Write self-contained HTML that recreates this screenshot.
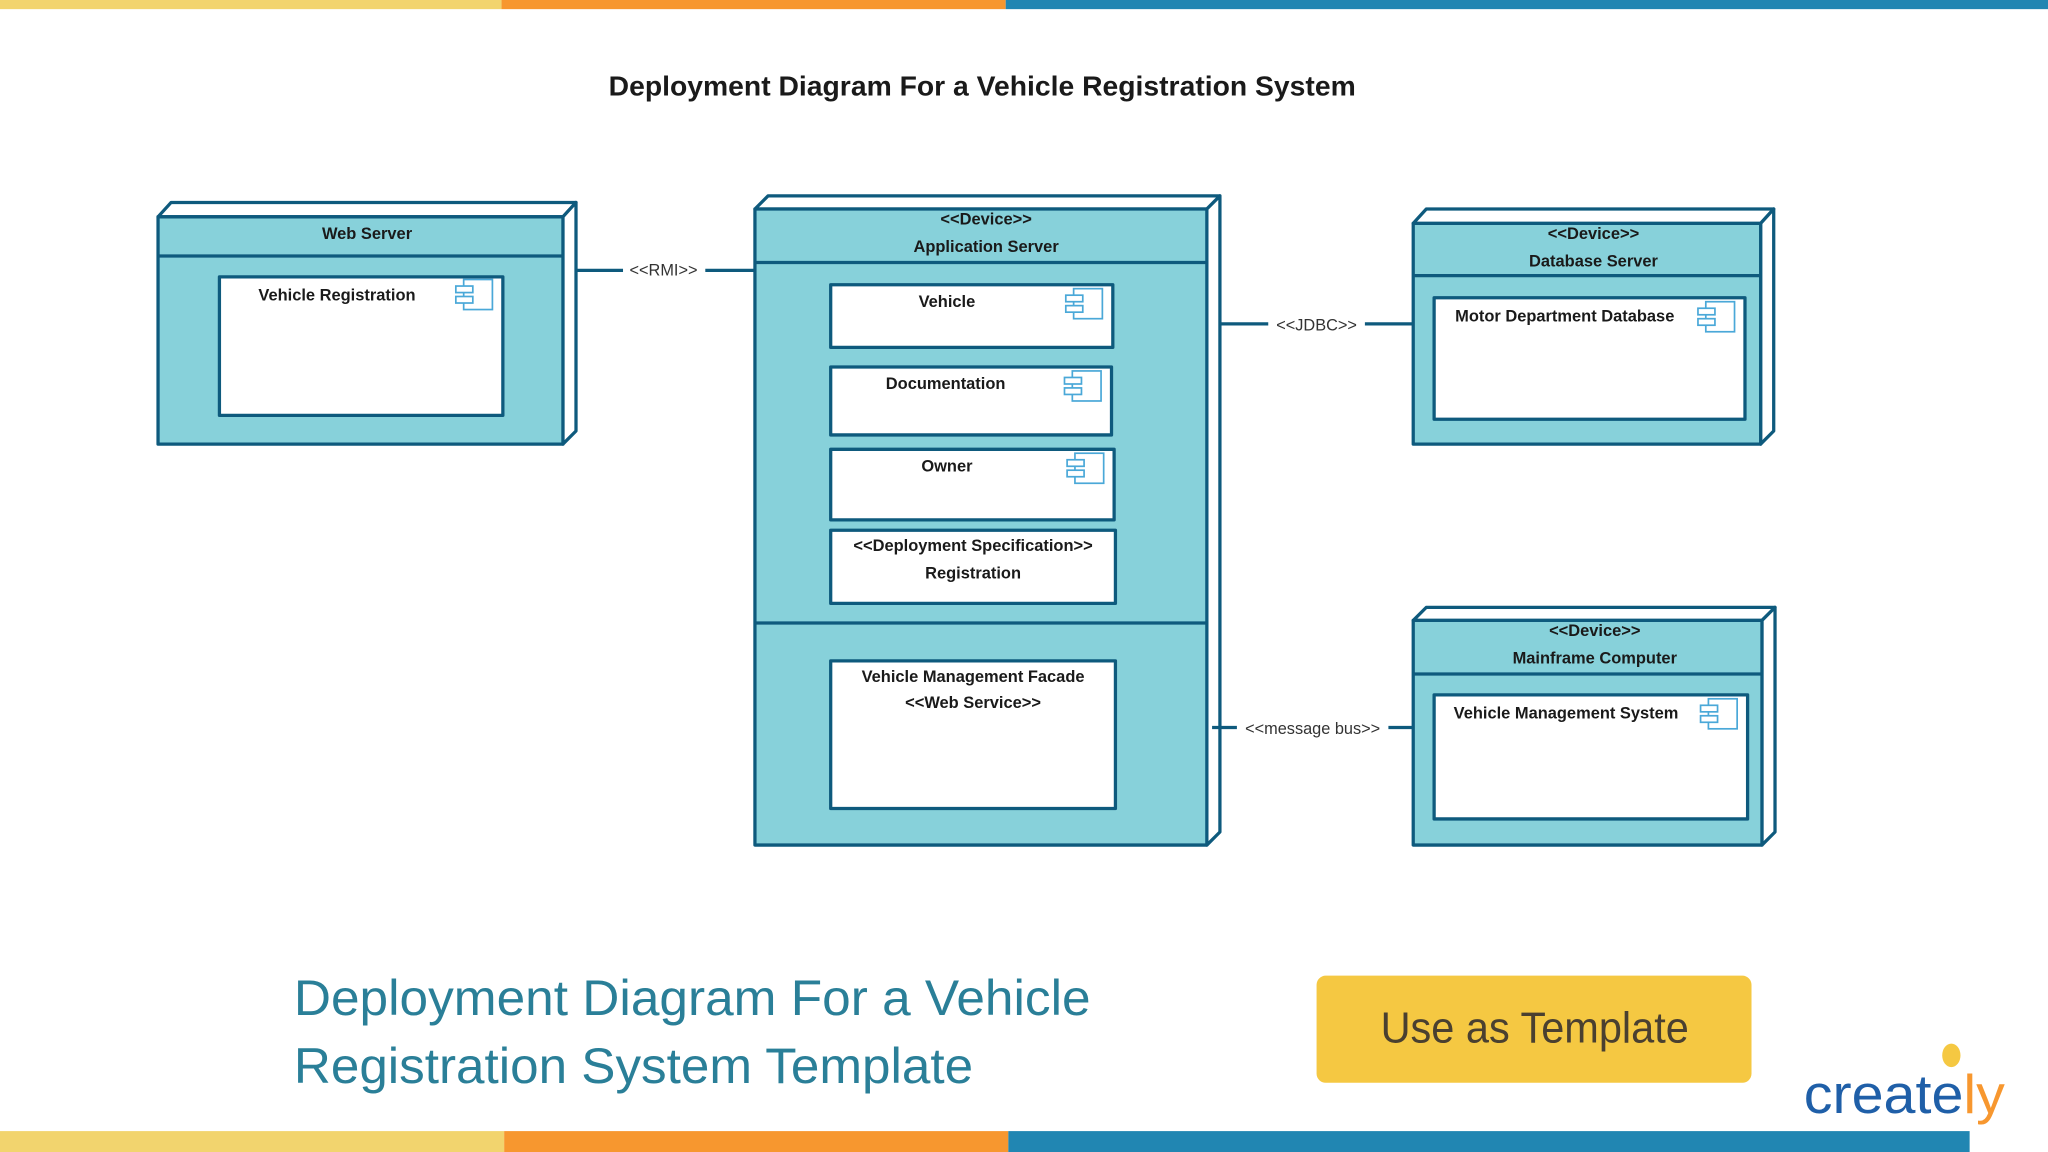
<!DOCTYPE html>
<html><head><meta charset="utf-8"><style>
html,body{margin:0;padding:0;background:#fff;width:2048px;height:1152px;overflow:hidden}
svg{display:block}
.n{font-family:"Liberation Sans",sans-serif;font-size:12.6px;font-weight:bold;fill:#1a1a1a}
.c{font-family:"Liberation Sans",sans-serif;font-size:12.5px;fill:#333}
</style></head><body>
<svg width="2048" height="1152" viewBox="0 0 1568 882" xmlns="http://www.w3.org/2000/svg">
<defs>
<g id="ic" fill="#fff" stroke="#4aa8d8" stroke-width="1.3">
<rect x="6" y="0" width="22" height="23"/>
<rect x="0" y="5" width="13" height="5"/>
<rect x="0" y="13" width="13" height="5"/>
</g>
</defs>
<rect x="0" y="0" width="384" height="7" fill="#f2d46e"/>
<rect x="384" y="0" width="386" height="7" fill="#f7972f"/>
<rect x="770" y="0" width="798" height="7" fill="#2186b2"/>
<rect x="0" y="866" width="386" height="16" fill="#f2d46e"/>
<rect x="386" y="866" width="386" height="16" fill="#f7972f"/>
<rect x="772" y="866" width="736" height="16" fill="#2186b2"/>

<text x="752" y="73" text-anchor="middle" font-family="Liberation Sans,sans-serif" font-size="21.5" font-weight="bold" fill="#1a1a1a" textLength="572" lengthAdjust="spacingAndGlyphs">Deployment Diagram For a Vehicle Registration System</text>

<g stroke="#0e5a7d" stroke-width="2.5" stroke-linejoin="round">
<polygon points="121,166 131,155 441,155 431,166" fill="#fff"/>
<polygon points="431,166 441,155 441,330 431,340" fill="#fff"/>
<rect x="121" y="166" width="310" height="174" fill="#87d1da"/>
<line x1="121" y1="196" x2="431" y2="196"/>
<rect x="168" y="212" width="217" height="106" fill="#fff"/>
<polygon points="578,160 588,150 934,150 924,160" fill="#fff"/>
<polygon points="924,160 934,150 934,637 924,647" fill="#fff"/>
<rect x="578" y="160" width="346" height="487" fill="#87d1da"/>
<line x1="578" y1="201" x2="924" y2="201"/>
<line x1="578" y1="477" x2="924" y2="477"/>
<rect x="636" y="218" width="216" height="48" fill="#fff"/>
<rect x="636" y="281" width="215" height="52" fill="#fff"/>
<rect x="636" y="344" width="217" height="54" fill="#fff"/>
<rect x="636" y="406" width="218" height="56" fill="#fff"/>
<rect x="636" y="506" width="218" height="113" fill="#fff"/>
<polygon points="1082,171 1092,160 1358,160 1348,171" fill="#fff"/>
<polygon points="1348,171 1358,160 1358,330 1348,340" fill="#fff"/>
<rect x="1082" y="171" width="266" height="169" fill="#87d1da"/>
<line x1="1082" y1="211" x2="1348" y2="211"/>
<rect x="1098" y="228" width="238" height="93" fill="#fff"/>
<polygon points="1082,475 1092,465 1359,465 1349,475" fill="#fff"/>
<polygon points="1349,475 1359,465 1359,637 1349,647" fill="#fff"/>
<rect x="1082" y="475" width="267" height="172" fill="#87d1da"/>
<line x1="1082" y1="516" x2="1349" y2="516"/>
<rect x="1098" y="532" width="240" height="95" fill="#fff"/>
<line x1="441" y1="207" x2="477" y2="207"/><line x1="540" y1="207" x2="578" y2="207"/>
<line x1="934" y1="248" x2="971" y2="248"/><line x1="1045" y1="248" x2="1082" y2="248"/>
<line x1="928" y1="557" x2="947" y2="557"/><line x1="1063" y1="557" x2="1082" y2="557"/>
</g>
<use href="#ic" x="349" y="214"/>
<use href="#ic" x="816" y="221"/>
<use href="#ic" x="815" y="284"/>
<use href="#ic" x="817" y="347"/>
<use href="#ic" x="1300" y="231"/>
<use href="#ic" x="1302" y="535"/>

<text class="n" x="281" y="183" text-anchor="middle">Web Server</text>
<text class="n" x="258" y="230" text-anchor="middle">Vehicle Registration</text>
<text class="n" x="755" y="172" text-anchor="middle">&lt;&lt;Device&gt;&gt;</text>
<text class="n" x="755" y="193" text-anchor="middle">Application Server</text>
<text class="n" x="725" y="235" text-anchor="middle">Vehicle</text>
<text class="n" x="724" y="298" text-anchor="middle">Documentation</text>
<text class="n" x="725" y="361" text-anchor="middle">Owner</text>
<text class="n" x="745" y="422" text-anchor="middle">&lt;&lt;Deployment Specification&gt;&gt;</text>
<text class="n" x="745" y="443" text-anchor="middle">Registration</text>
<text class="n" x="745" y="522" text-anchor="middle">Vehicle Management Facade</text>
<text class="n" x="745" y="542" text-anchor="middle">&lt;&lt;Web Service&gt;&gt;</text>
<text class="n" x="1220" y="183" text-anchor="middle">&lt;&lt;Device&gt;&gt;</text>
<text class="n" x="1220" y="204" text-anchor="middle">Database Server</text>
<text class="n" x="1198" y="246" text-anchor="middle">Motor Department Database</text>
<text class="n" x="1221" y="487" text-anchor="middle">&lt;&lt;Device&gt;&gt;</text>
<text class="n" x="1221" y="508" text-anchor="middle">Mainframe Computer</text>
<text class="n" x="1199" y="550" text-anchor="middle">Vehicle Management System</text>
<text class="c" x="508" y="211" text-anchor="middle">&lt;&lt;RMI&gt;&gt;</text>
<text class="c" x="1008" y="253" text-anchor="middle">&lt;&lt;JDBC&gt;&gt;</text>
<text class="c" x="1005" y="562" text-anchor="middle">&lt;&lt;message bus&gt;&gt;</text>

<text x="225" y="777" font-family="Liberation Sans,sans-serif" font-size="38" fill="#2a7f98" textLength="610" lengthAdjust="spacingAndGlyphs">Deployment Diagram For a Vehicle</text>
<text x="225" y="829" font-family="Liberation Sans,sans-serif" font-size="38" fill="#2a7f98" textLength="520" lengthAdjust="spacingAndGlyphs">Registration System Template</text>

<rect x="1008" y="747" width="333" height="82" rx="7" fill="#f5c842"/>
<text x="1175" y="798" text-anchor="middle" font-family="Liberation Sans,sans-serif" font-size="33" fill="#4a4030" textLength="236" lengthAdjust="spacingAndGlyphs">Use as Template</text>

<ellipse cx="1494" cy="808" rx="7" ry="9" fill="#f5c842"/>
<text x="1381" y="852" font-family="Liberation Sans,sans-serif" font-size="42" fill="#1f5fa8" textLength="154" lengthAdjust="spacingAndGlyphs">create<tspan fill="#f7972f">ly</tspan></text>
</svg>
</body></html>
